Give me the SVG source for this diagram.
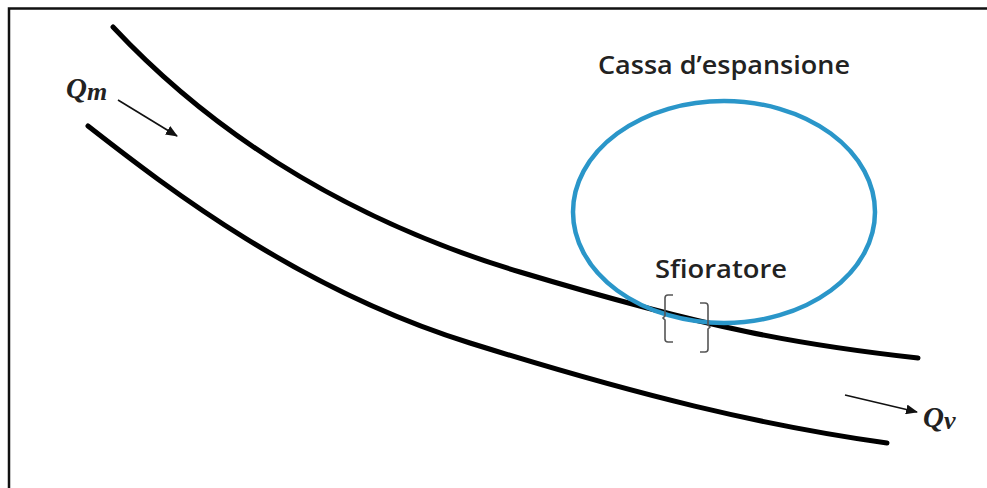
<svg xmlns="http://www.w3.org/2000/svg" width="987" height="488" viewBox="0 0 987 488">
<style>
.frame{stroke:#111;stroke-width:2.5;fill:none}
.channel{stroke:#000;stroke-width:5;fill:none;stroke-linecap:round}
.cassa{stroke:#2A96C9;stroke-width:4.5;fill:none}
.lbl{font-family:"Open Sans","Liberation Sans",sans-serif;font-weight:600;font-size:25px;fill:#222}
.q{font-family:"Liberation Serif","DejaVu Serif",serif;font-style:italic;font-weight:bold;fill:#222}
.arr{stroke:#111;stroke-width:1.6;fill:none}
.br{stroke:#555;stroke-width:1.6;fill:none}
</style>
<defs>
<marker id="ah" viewBox="0 0 12 10" refX="11" refY="5" markerWidth="12" markerHeight="10" orient="auto" markerUnits="userSpaceOnUse">
<path d="M0,0 L12,5 L0,10 z" fill="#111"/>
</marker>
</defs>
<rect width="987" height="488" fill="#fff"/>
<path class="frame" d="M9,488 L9,8.5 L987,8.5"/>
<g id="canale">
<path class="channel" d="M113,27 C200,120 330,215 520,272 S800,345 918,358"/>
<path class="channel" d="M88,126 C170,190 300,290 470,343 S760,425 887,443"/>
</g>
<g id="cassa">
<ellipse class="cassa" cx="724" cy="212" rx="151" ry="111"/>
<text class="lbl" x="724" y="74" text-anchor="middle" textLength="252" lengthAdjust="spacingAndGlyphs">Cassa d’espansione</text>
</g>
<g id="sfioratore">
<text class="lbl" x="721" y="278" text-anchor="middle" textLength="132" lengthAdjust="spacingAndGlyphs">Sfioratore</text>
<path class="br" d="M673,295 L668,295 Q665,295 665,298 L665,316 L663,318 L665,320 L665,339 Q665,342 668,342 L673,342"/>
<path class="br" d="M700,303 L705,303 Q708,303 708,306 L708,325 L710,327 L708,329 L708,349 Q708,352 705,352 L700,352"/>
</g>
<g id="connectors">
<line class="arr" x1="118" y1="100" x2="177" y2="136" marker-end="url(#ah)"/>
<line class="arr" x1="845" y1="395" x2="917" y2="412" marker-end="url(#ah)"/>
</g>
<g id="qm">
<text class="q" x="66" y="98" font-size="29">Q<tspan font-size="26" dy="2">m</tspan></text>
</g>
<g id="qv">
<text class="q" x="923" y="427" font-size="29">Q<tspan font-size="26" dy="2">v</tspan></text>
</g>
</svg>
